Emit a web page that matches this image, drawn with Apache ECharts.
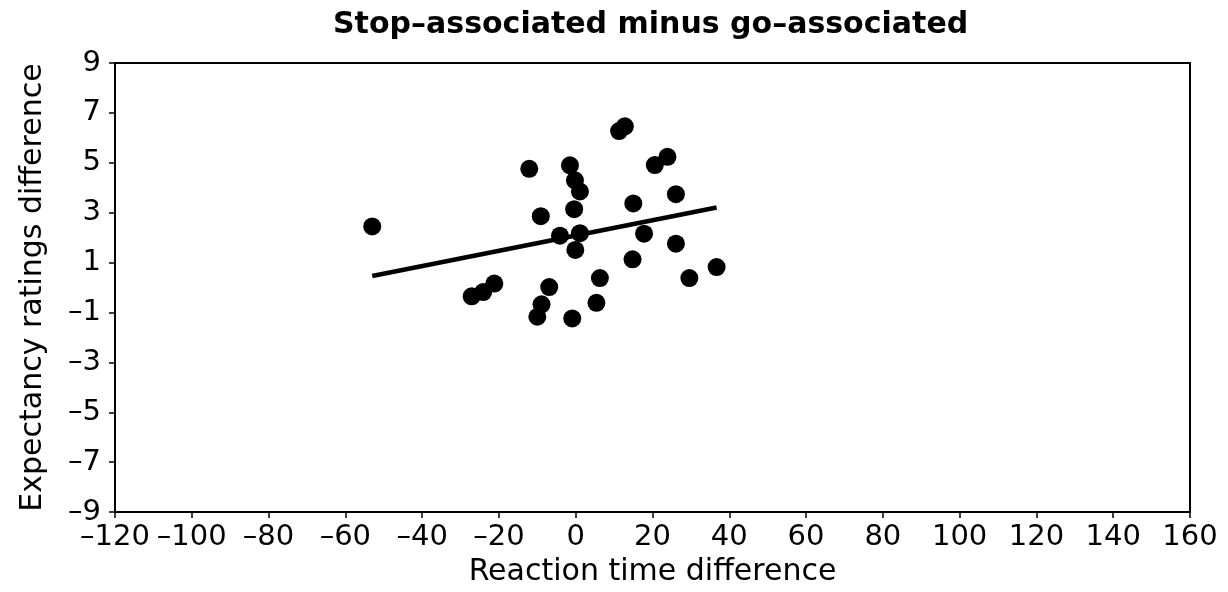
<!DOCTYPE html>
<html>
<head>
<meta charset="utf-8">
<script src="https://cdn.jsdelivr.net/npm/echarts@6/dist/echarts.min.js"></script>
<style>
  html, body { margin: 0; padding: 0; background: #fff; }
  #main { width: 1228px; height: 592px; }
</style>
</head>
<body>
<div id="main"></div>
<script>
// reaction time difference (x) and expectancy ratings difference (y)
var rtDiff = [-53.0, -12.1, -1.5, -0.2, 1.1, 11.3, 12.8, 20.6, 23.9, 26.1,
              15.0, -0.4, -9.1, -4.1, 1.1, 17.8, 26.1, -0.1, 14.8, 36.7,
              29.6, 6.3, -6.9, -21.2, -24.1, -27.1, -8.9, 5.4, -10.0, -0.9];
var ratingDiff = [2.45, 4.76, 4.9, 4.3, 3.85, 6.27, 6.46, 4.91, 5.24, 3.74,
                  3.37, 3.14, 2.86, 2.08, 2.18, 2.16, 1.76, 1.51, 1.13, 0.82,
                  0.38, 0.38, 0.02, 0.16, -0.18, -0.35, -0.67, -0.61, -1.17, -1.24];

// regression line end points
var fitX = [-53.0, 36.7];
var fitY = [0.46, 3.21];

var xTicks = { min: -120, max: 160, step: 20 };
var yTicks = { min: -9, max: 9, step: 2 };

var FONT = 'DejaVu Sans';

// tick labels use a short dash for the minus, as in the original figure
function minus(v) {
  return String(v).replace('-', '\u2013');
}

var chart = echarts.init(document.getElementById('main'), null, { renderer: 'canvas' });

var points = rtDiff.map(function (x, i) { return [x, ratingDiff[i]]; });
var fitLine = fitX.map(function (x, i) { return [x, fitY[i]]; });

var option = {
  backgroundColor: '#ffffff',
  animation: false,
  title: {
    text: 'Stop\u2013associated minus go\u2013associated',
    left: 333,
    top: 10,
    padding: 0,
    textStyle: { fontFamily: FONT, fontSize: 30, fontWeight: 'bold', color: '#000' }
  },
  grid: {
    left: 115, right: 38, top: 63, bottom: 76,
    show: true,
    borderColor: '#000',
    borderWidth: 2,
    backgroundColor: 'transparent'
  },
  xAxis: {
    type: 'value',
    min: xTicks.min,
    max: xTicks.max,
    interval: xTicks.step,
    name: 'Reaction time difference',
    nameLocation: 'middle',
    nameGap: 44,
    nameTextStyle: { fontFamily: FONT, fontSize: 30, color: '#000' },
    axisLine: { onZero: false, lineStyle: { color: '#000', width: 2 } },
    axisTick: { show: true, inside: false, length: 6, lineStyle: { color: '#000', width: 1.5 } },
    axisLabel: {
      fontFamily: FONT, fontSize: 29, color: '#000', margin: 11,
      showMinLabel: true, showMaxLabel: true, hideOverlap: false,
      formatter: minus
    },
    splitLine: { show: false }
  },
  yAxis: {
    type: 'value',
    min: yTicks.min,
    max: yTicks.max,
    interval: yTicks.step,
    name: 'Expectancy ratings difference',
    nameLocation: 'middle',
    nameGap: 67,
    nameTextStyle: { fontFamily: FONT, fontSize: 30, color: '#000' },
    axisLine: { show: true, onZero: false, lineStyle: { color: '#000', width: 2 } },
    axisTick: { show: true, inside: false, length: 6, lineStyle: { color: '#000', width: 1.5 } },
    axisLabel: {
      fontFamily: FONT, fontSize: 29, color: '#000', margin: 14,
      showMinLabel: true, showMaxLabel: true,
      formatter: minus
    },
    splitLine: { show: false }
  },
  series: [
    {
      type: 'line',
      data: fitLine,
      symbol: 'none',
      lineStyle: { color: '#000', width: 4.5 },
      z: 2
    },
    {
      type: 'scatter',
      data: points,
      symbol: 'circle',
      symbolSize: 18,
      itemStyle: { color: '#000', opacity: 1 },
      z: 3
    }
  ]
};

chart.setOption(option);
</script>
</body>
</html>
